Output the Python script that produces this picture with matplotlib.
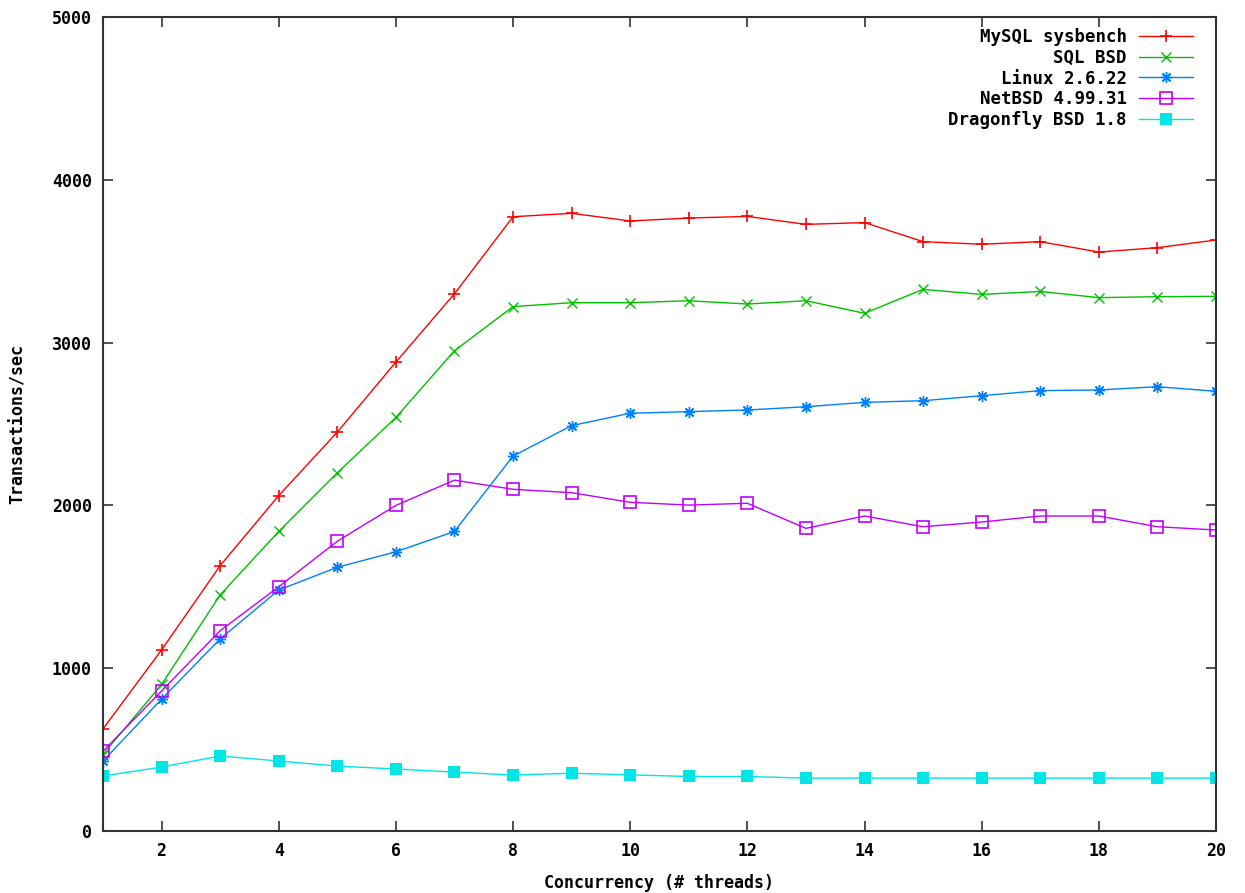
import matplotlib
matplotlib.use("Agg")
import matplotlib.pyplot as plt

# -------- Datos --------
threads = list(range(1, 21))

mysql_sysbench = [627, 1112, 1630, 2060, 2450, 2880, 3300, 3773, 3794, 3747,
                  3765, 3775, 3726, 3737, 3620, 3604, 3620, 3556, 3583, 3630]
sql_bsd = [470, 900, 1450, 1840, 2200, 2540, 2950, 3221, 3245, 3245,
           3257, 3237, 3257, 3180, 3327, 3296, 3314, 3276, 3282, 3284]
linux = [430, 810, 1180, 1480, 1620, 1715, 1840, 2303, 2490, 2566,
         2576, 2586, 2606, 2633, 2643, 2674, 2705, 2709, 2729, 2701]
netbsd = [490, 860, 1230, 1500, 1780, 2000, 2155, 2099, 2078, 2019,
          2002, 2013, 1859, 1935, 1869, 1898, 1935, 1935, 1869, 1849]
dragonfly = [338, 393, 461, 430, 399, 381, 362, 344, 355, 345,
             335, 335, 325, 325, 325, 325, 325, 325, 325, 325]

labels = ["MySQL sysbench", "SQL BSD", "Linux 2.6.22", "NetBSD 4.99.31", "Dragonfly BSD 1.8"]
x_ticks = list(range(2, 21, 2))
y_ticks = [0, 1000, 2000, 3000, 4000, 5000]

# -------- Gráfica --------
fuente = "DejaVu Sans Mono"

fig = plt.figure(figsize=(12.45, 8.93), dpi=100)
ax = fig.add_axes([0.0827, 0.0694, 0.894, 0.9116])

ax.plot(threads, mysql_sysbench, color="#ff0000", lw=1.0, marker="+", ms=8, mew=1.2, label=labels[0])
ax.plot(threads, sql_bsd, color="#00c000", lw=1.0, marker="x", ms=7, mew=1.0, label=labels[1])
ax.plot(threads, linux, color="#0080ff", lw=1.0, marker=(8, 2, 0), ms=8, mew=1.0, label=labels[2])
ax.plot(threads, netbsd, color="#c000ff", lw=1.0, marker="s", ms=8, mew=1.2,
        mfc="none", label=labels[3])
ax.plot(threads, dragonfly, color="#00e5e5", lw=1.0, marker="s", ms=9, mew=0, label=labels[4])

ax.set_xlim(1, 20)
ax.set_ylim(0, 5000)
ax.set_xticks(x_ticks)
ax.set_yticks(y_ticks)
ax.tick_params(direction="in", length=7, width=1.2, color="#333333",
               top=True, right=True, labelsize=12, pad=8)
for lab in ax.get_xticklabels() + ax.get_yticklabels():
    lab.set_family(fuente)
    lab.set_weight("bold")

for sp in ax.spines.values():
    sp.set_linewidth(1.5)
    sp.set_color("#333333")

ax.set_xlabel("Concurrency (# threads)", family=fuente, weight="bold", fontsize=12, labelpad=10)
ax.set_ylabel("Transactions/sec", family=fuente, weight="bold", fontsize=12, labelpad=18)

leg = ax.legend(loc="upper right", bbox_to_anchor=(0.979, 0.986), frameon=False, markerfirst=False,
                prop={"family": fuente, "weight": "bold", "size": 12.5},
                handlelength=3.1, handletextpad=0.7, labelspacing=0.15,
                borderaxespad=0, borderpad=0)

fig.savefig("out.png", dpi=100)
